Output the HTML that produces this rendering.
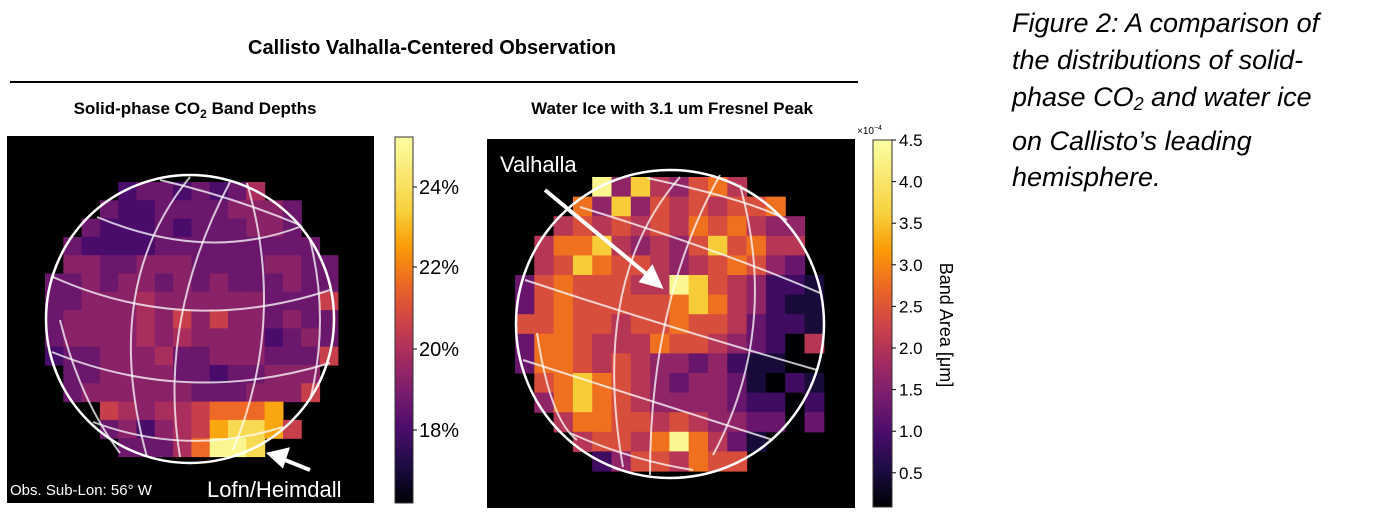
<!DOCTYPE html>
<html><head><meta charset="utf-8"><style>
body{margin:0;background:#fff;width:1400px;height:512px;overflow:hidden;font-family:"Liberation Sans",Arial,sans-serif}
svg{position:absolute;left:0;top:0}
</style></head><body>
<svg id="s" width="1400" height="512" xmlns="http://www.w3.org/2000/svg">
<defs>
<linearGradient id="inf" x1="0" y1="1" x2="0" y2="0">
<stop offset="0" stop-color="#000004"/><stop offset="0.1" stop-color="#1b0c41"/><stop offset="0.2" stop-color="#4a0c6b"/><stop offset="0.3" stop-color="#781c6d"/><stop offset="0.4" stop-color="#a52c60"/><stop offset="0.5" stop-color="#cf4446"/><stop offset="0.6" stop-color="#ed6925"/><stop offset="0.7" stop-color="#fb9b06"/><stop offset="0.8" stop-color="#f7d13d"/><stop offset="1" stop-color="#fcffa4"/>
</linearGradient>
</defs>
<text x="432" y="54" text-anchor="middle" font-size="20" font-weight="bold">Callisto Valhalla-Centered Observation</text>
<line x1="10" y1="82" x2="858" y2="82" stroke="#000" stroke-width="2"/>
<text x="195" y="114" text-anchor="middle" font-size="17" font-weight="bold">Solid-phase CO<tspan font-size="12" dy="4">2</tspan><tspan dy="-4"> Band Depths</tspan></text>
<text x="672" y="114" text-anchor="middle" font-size="17" font-weight="bold">Water Ice with 3.1 um Fresnel Peak</text>
<rect x="7" y="136" width="367" height="367" fill="#000"/>
<rect x="487" y="139" width="368" height="369" fill="#000"/>
<g id="L"></g><g id="R"></g>
<g fill="none" stroke="rgba(255,255,255,0.75)" stroke-width="2">
<path d="M97,217 Q207,263 302,226"/><path d="M160,180 Q233,197 300,225"/>
<path d="M53,277 Q187,337 330,290"/><path d="M52,352 Q187,407 330,363"/><path d="M93,422 Q187,457 283,427"/>
<path d="M190,177 Q100,287 147,457"/><path d="M230,182 Q157,320 180,457"/><path d="M247,183 Q287,320 233,450"/><path d="M60,320 Q80,400 120,453"/><path d="M310,240 Q330,320 310,400"/>
</g>
<circle cx="190" cy="319" r="144" fill="none" stroke="#fff" stroke-width="2.5"/>
<g fill="none" stroke="rgba(255,255,255,0.75)" stroke-width="2">
<path d="M647,178 Q750,200 787,220"/><path d="M580,207 Q720,250 820,293"/>
<path d="M525,280 Q667,327 817,370"/><path d="M523,360 Q647,400 773,440"/><path d="M570,433 Q630,460 693,470"/>
<path d="M720,175 Q650,300 650,475"/><path d="M680,177 Q590,280 623,467"/><path d="M740,185 Q780,330 713,455"/><path d="M537,333 Q550,420 577,440"/>
</g>
<circle cx="670" cy="324" r="154" fill="none" stroke="#fff" stroke-width="2.5"/>
<g stroke="#fff" stroke-width="4" fill="#fff">
<line x1="310" y1="470" x2="280" y2="458"/><polygon points="270,454 287,450 282,465"/>
<line x1="545" y1="190" x2="650" y2="277"/><polygon points="660,286 642,281 652,268"/>
</g>
<text x="10" y="495" font-size="15" fill="#fff">Obs. Sub-Lon: 56° W</text>
<text x="207" y="497" font-size="22" fill="#fff">Lofn/Heimdall</text>
<text x="500" y="172" font-size="22" fill="#fff">Valhalla</text>
<rect x="395" y="137" width="18" height="366" fill="url(#inf)" stroke="#333" stroke-width="1"/>
<g font-size="20"><g stroke="#000"><line x1="413" y1="187" x2="417" y2="187"/><line x1="413" y1="267" x2="417" y2="267"/><line x1="413" y1="349" x2="417" y2="349"/><line x1="413" y1="430" x2="417" y2="430"/></g>
<text x="419" y="194">24%</text><text x="419" y="274">22%</text><text x="419" y="356">20%</text><text x="419" y="437">18%</text></g>
<rect x="873" y="140" width="19" height="367" fill="url(#inf)" stroke="#333" stroke-width="1"/>
<g id="RT" font-size="17"></g>
<text x="857" y="134" font-size="10">×10<tspan font-size="7" dy="-4">−4</tspan></text>
<text transform="translate(940,325) rotate(90)" text-anchor="middle" font-size="18">Band Area [μm]</text>
<g font-size="27" font-style="italic">
<text x="1012" y="32">Figure 2: A comparison of</text>
<text x="1012" y="69">the distributions of solid-</text>
<text x="1012" y="106">phase CO<tspan font-size="18" dy="4">2</tspan><tspan dy="-4"> and water ice</tspan></text>
<text x="1012" y="150">on Callisto’s leading</text>
<text x="1012" y="186">hemisphere.</text>
</g>
</svg>
<script>
var st=[[0,[0,0,4]],[.1,[27,12,65]],[.2,[74,12,107]],[.3,[120,28,109]],[.4,[165,44,96]],[.5,[207,68,70]],[.6,[237,105,37]],[.7,[251,155,6]],[.8,[247,209,61]],[1,[252,255,164]]];
function cm(t){for(var i=1;i<st.length;i++){if(t<=st[i][0]){var a=st[i-1],b=st[i],f=(t-a[0])/(b[0]-a[0]);return 'rgb('+[0,1,2].map(function(k){return Math.round(a[1][k]+(b[1][k]-a[1][k])*f)}).join(',')+')';}}return 'rgb(252,255,164)';}
function grid(id,rows,x0,y0,w,h,sc){var g=document.getElementById(id),s='';rows.forEach(function(r,i){r=r.replace(/ /g,'');for(var j=0;j<16&&j<r.length;j++){var c=r[j];if(c=='.')continue;var t=sc(+c);s+='<rect x="'+(x0+j*w).toFixed(1)+'" y="'+(y0+i*h).toFixed(1)+'" width="'+(w+0.6)+'" height="'+(h+0.6)+'" fill="'+cm(t)+'"/>';}});g.innerHTML=s;}
grid('L',["....12212124....","...21122223332..","..211121222332..",".21111222222222.",".332233322223322","2232332323222322","2233343333332225","2333343535332322","2333343433331232","1223334223332225",".22333322122333.",".23333332223335.","...5434456667....","...23134578875...","....22246998...."],45,182,18.3,18.3,function(d){return d<=5?0.13+d*0.07:0.48+(d-5)*0.12;});
grid('R',["....94854675....","...74846565667..","..5656565767544.",".57785454686755.",".56876654567643..","3676665598654221","3676666678754211","6676656676653221","3776555766543205","3776565443421100",".678765434431021",".478765444432202","..57766565443303","...5665797531...","....24665766...."],515,177,19.3,19.6,function(d){return d<=7?d*0.088:0.62+(d-7)*0.17;});
var g=document.getElementById('RT'),s='';['4.5','4.0','3.5','3.0','2.5','2.0','1.5','1.0','0.5'].forEach(function(v,i){var y=140+i*41.6;s+='<line x1="892" y1="'+y+'" x2="896" y2="'+y+'" stroke="#000"/><text x="899" y="'+(y+6)+'">'+v+'</text>';});g.innerHTML=s;
</script>
</body></html>
